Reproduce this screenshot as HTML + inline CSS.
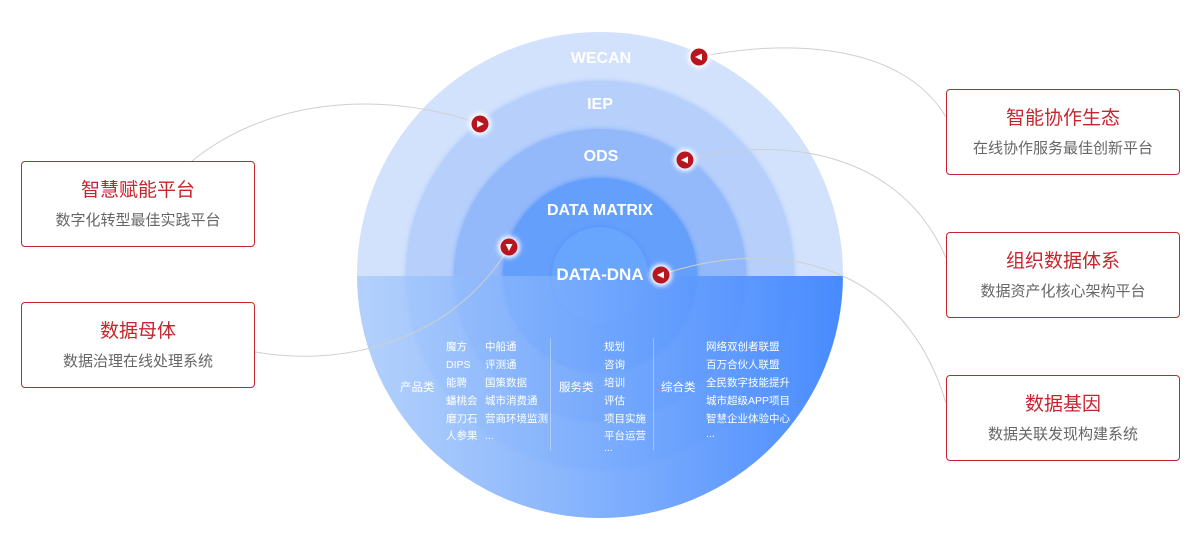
<!DOCTYPE html>
<html><head><meta charset="utf-8"><style>
body{margin:0;width:1200px;height:550px;background:#fff;overflow:hidden;position:relative;font-family:"Liberation Sans","Noto Sans CJK SC",sans-serif}
.box{position:absolute;width:234px;height:86px;border:1px solid #c4262e;border-radius:4px;background:#fff;text-align:center;box-sizing:border-box}
.box .t{color:#c4262e;font-size:19px;margin-top:17px;line-height:24px}
.box .s{color:#666;font-size:15px;margin-top:8px;line-height:20px}
</style></head><body>
<svg width="1200" height="550" style="position:absolute;left:0;top:0" font-family="Liberation Sans, Noto Sans CJK SC, sans-serif">
<defs>
<clipPath id="c"><circle cx="600" cy="275" r="243"/></clipPath>
<linearGradient id="g" x1="0" x2="1" y1="0" y2="0">
<stop offset="0" stop-color="#a9cbfb" stop-opacity="0.75"/>
<stop offset="1" stop-color="#3a82ff" stop-opacity="0.92"/>
</linearGradient>
<filter id="gl" x="-1" y="-1" width="3" height="3"><feGaussianBlur stdDeviation="2.5"/></filter>
<filter id="rs" x="-0.1" y="-0.1" width="1.2" height="1.2"><feGaussianBlur stdDeviation="2"/></filter>
</defs>
<circle cx="600" cy="275" r="243" fill="#d2e2fc"/>
<circle cx="600" cy="275" r="195" fill="#9fc0fb" filter="url(#rs)" opacity="0.6"/>
<circle cx="600" cy="275" r="194" fill="#b6d0fb"/>
<circle cx="600" cy="275" r="147" fill="#7fa9f9" filter="url(#rs)" opacity="0.6"/>
<circle cx="600" cy="275" r="146" fill="#93b9fa"/>
<circle cx="600" cy="275" r="98" fill="#4d8ef9" filter="url(#rs)" opacity="0.6"/>
<circle cx="600" cy="275" r="97" fill="#659ffc"/>
<circle cx="600" cy="275" r="49" fill="#4d8ef9" filter="url(#rs)" opacity="0.6"/>
<circle cx="600" cy="275" r="48" fill="#68a6fd"/>
<rect x="357" y="276" width="490" height="250" fill="url(#g)" clip-path="url(#c)"/>
<g fill="#fff" font-weight="bold" text-anchor="middle">
<text x="601" y="63" font-size="16">WECAN</text>
<text x="600" y="109" font-size="16">IEP</text>
<text x="601" y="161" font-size="16">ODS</text>
<text x="600" y="215" font-size="16">DATA MATRIX</text>
<text x="600" y="280" font-size="17">DATA-DNA</text>
</g>
<g fill="none" stroke="#cfcfcf" stroke-width="1">
<path d="M699,57 C780,40 900,40 946,117"/>
<path d="M480,124 C400,95 280,90 192,161"/>
<path d="M685,160 C780,135 900,150 946,258"/>
<path d="M661,275 C760,240 900,250 946,403"/>
<path d="M509,247 C460,330 360,370 255,352"/>
</g>
<g>
<circle cx="699" cy="57" r="11" fill="#fff" filter="url(#gl)"/><circle cx="699" cy="57" r="8.5" fill="#b8161f"/><path d="M695,57 L702,53.5 L702,60.5Z" fill="#fff"/>
<circle cx="480" cy="124" r="11" fill="#fff" filter="url(#gl)"/><circle cx="480" cy="124" r="8.5" fill="#b8161f"/><path d="M484,124 L477,120.5 L477,127.5Z" fill="#fff"/>
<circle cx="685" cy="160" r="11" fill="#fff" filter="url(#gl)"/><circle cx="685" cy="160" r="8.5" fill="#b8161f"/><path d="M681,160 L688,156.5 L688,163.5Z" fill="#fff"/>
<circle cx="509" cy="247" r="11" fill="#fff" filter="url(#gl)"/><circle cx="509" cy="247" r="8.5" fill="#b8161f"/><path d="M509,251 L505.5,244 L512.5,244Z" fill="#fff"/>
<circle cx="661" cy="275" r="11" fill="#fff" filter="url(#gl)"/><circle cx="661" cy="275" r="8.5" fill="#b8161f"/><path d="M657,275 L664,271.5 L664,278.5Z" fill="#fff"/>
</g>
<g stroke="#ffffff" stroke-opacity="0.35"><line x1="550.5" y1="338" x2="550.5" y2="450"/><line x1="653.5" y1="338" x2="653.5" y2="450"/></g>
<g fill="#fff" font-size="10.5">
<text x="400" y="391" font-size="11.5">产品类</text>
<text x="446" y="350">魔方</text><text x="446" y="368">DIPS</text><text x="446" y="386">能聘</text><text x="446" y="404">蟠桃会</text><text x="446" y="422">磨刀石</text><text x="446" y="439">人参果</text>
<text x="485" y="350">中船通</text><text x="485" y="368">评测通</text><text x="485" y="386">国策数据</text><text x="485" y="404">城市消费通</text><text x="485" y="422">营商环境监测</text><text x="485" y="439">...</text>
<text x="559" y="391" font-size="11.5">服务类</text>
<text x="604" y="350">规划</text><text x="604" y="368">咨询</text><text x="604" y="386">培训</text><text x="604" y="404">评估</text><text x="604" y="422">项目实施</text><text x="604" y="439">平台运营</text><text x="604" y="451">...</text>
<text x="661" y="391" font-size="11.5">综合类</text>
<text x="706" y="350">网络双创者联盟</text><text x="706" y="368">百万合伙人联盟</text><text x="706" y="386">全民数字技能提升</text><text x="706" y="404">城市超级APP项目</text><text x="706" y="422">智慧企业体验中心</text><text x="706" y="437">...</text>
</g>
</svg>
<div class="box" style="left:946px;top:89px"><div class="t">智能协作生态</div><div class="s">在线协作服务最佳创新平台</div></div>
<div class="box" style="left:946px;top:232px"><div class="t">组织数据体系</div><div class="s">数据资产化核心架构平台</div></div>
<div class="box" style="left:946px;top:375px"><div class="t">数据基因</div><div class="s">数据关联发现构建系统</div></div>
<div class="box" style="left:21px;top:161px"><div class="t">智慧赋能平台</div><div class="s">数字化转型最佳实践平台</div></div>
<div class="box" style="left:21px;top:302px"><div class="t">数据母体</div><div class="s">数据治理在线处理系统</div></div>
</body></html>
